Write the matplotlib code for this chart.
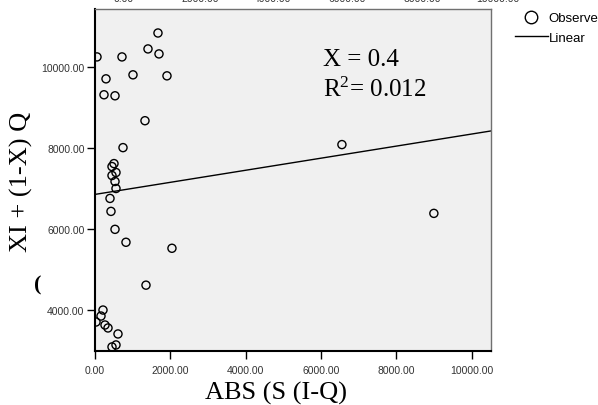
"""Scatter of XI + (1-X) Q against ABS (S (I-Q) with a linear fit line."""
import matplotlib
matplotlib.use("Agg")
import matplotlib.pyplot as plt
from matplotlib.lines import Line2D

# Observed points
abs_values = [1671, 1406, 1698, 53, 716, 1008, 1910, 292, 239, 531,
              1326, 743, 504, 451, 557, 451, 531, 557, 398, 424,
              531, 822, 2042, 1353, 6552, 8992, 212, 159, 27, 265,
              345, 610, 451, 557]
xiq_values = [10828, 10435, 10312, 10238, 10238, 9796, 9771, 9697, 9304, 9279,
              8664, 8000, 7606, 7533, 7386, 7312, 7165, 6992, 6747, 6427,
              5984, 5665, 5517, 4607, 8075, 6378, 3993, 3845, 3698, 3624,
              3551, 3403, 3083, 3132]

# Linear fit
fit_intercept = 6846
fit_slope = 0.149

x_ticks = [0, 2000, 4000, 6000, 8000, 10000]
y_ticks = [4000, 6000, 8000, 10000]
# tick labels of the chart above, cut off at the top edge
top_cut_labels = ["0.00", "2000.00", "4000.00", "6000.00", "8000.00", "10000.00"]

annotation_lines = ["X = 0.4", "R$^2$= 0.012"]

SANS = "Liberation Sans"
SERIF = "Liberation Serif"

plt.rcParams["mathtext.fontset"] = "custom"
plt.rcParams["mathtext.rm"] = SERIF
plt.rcParams["mathtext.it"] = SERIF + ":italic"

W, H = 598, 406
fig = plt.figure(figsize=(W / 100, H / 100), dpi=100)
ax = fig.add_axes([95 / W, 1 - 351.7 / H, (490.7 - 95) / W, (351.7 - 10) / H])
ax.set_facecolor("#f0f0f0")

ax.scatter(abs_values, xiq_values, s=34, facecolors="none", edgecolors="black",
           linewidths=1.0, zorder=3)
ax.axline((0, fit_intercept), slope=fit_slope, color="black", linewidth=1.0, zorder=2)

ax.set_xlim(0, 10500)
ax.set_ylim(2990, 11420)
ax.set_xticks(x_ticks)
ax.set_yticks(y_ticks)
ax.set_xticklabels([f"{v:.2f}" for v in x_ticks], fontfamily=SANS, fontsize=7.5)
ax.set_yticklabels([f"{v:.2f}" for v in y_ticks], fontfamily=SANS, fontsize=7.5)
ax.tick_params(direction="out", length=5.5, width=1.0, colors="black",
               labelcolor="#333333")
ax.tick_params(axis="x", pad=5)
ax.tick_params(axis="y", pad=2)

# SPSS-like frame: heavy left/bottom, thin grey top/right
for side in ("left", "bottom"):
    ax.spines[side].set_linewidth(1.5)
    ax.spines[side].set_color("black")
for side in ("top", "right"):
    ax.spines[side].set_linewidth(1.0)
    ax.spines[side].set_color("#707070")

ax.set_xlabel("ABS (S (I-Q)", fontfamily=SERIF, fontsize=19)
ax.set_ylabel("XI + (1-X) Q", fontfamily=SERIF, fontsize=19)
# label centres as placed in the reference
ax.xaxis.set_label_coords((276 - 95) / (490.7 - 95), -(393 - 351.7) / (351.7 - 10))
ax.yaxis.set_label_coords(-(95 - 21) / (490.7 - 95), (351.7 - 182) / (351.7 - 10))
ax.xaxis.label.set_va("center")
ax.yaxis.label.set_va("center")

# Fit annotation
fig.text(323 / W, 1 - 60 / H, annotation_lines[0], fontfamily=SERIF, fontsize=18,
         va="center", ha="left")
fig.text(323 / W, 1 - 90 / H, annotation_lines[1], fontfamily=SERIF, fontsize=18,
         va="center", ha="left")

# Legend hanging off the right edge
handles = [
    Line2D([], [], linestyle="none", marker="o", markersize=9,
           markerfacecolor="none", markeredgecolor="black", markeredgewidth=1.0),
    Line2D([], [], color="black", linewidth=1.0),
]
fig.legend(handles, ["Observed", "Linear"], loc="upper left",
           bbox_to_anchor=(515 / W, 1 - 13 / H), frameon=False,
           prop={"family": SANS, "size": 9.5}, handlelength=2.5,
           handletextpad=0.05, borderpad=0, borderaxespad=0, labelspacing=0.55)

# Remnants of neighbouring charts
top_positions = [124, 200, 272, 347, 422, 498]
for label, px in zip(top_cut_labels, top_positions):
    fig.text(px / W, 1 - 2.5 / H, label, fontfamily=SANS, fontsize=7.5,
             ha="center", va="baseline", color="#333333")
fig.text(38 / W, 1 - 285 / H, "(", fontfamily=SERIF, fontsize=16,
         fontweight="bold", ha="center", va="center")

fig.savefig("out.png", dpi=100)
